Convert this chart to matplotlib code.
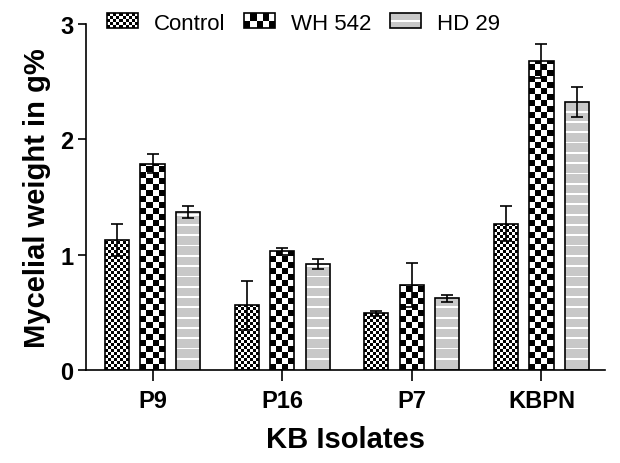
import matplotlib.pyplot as plt
import numpy as np
from matplotlib.patches import Rectangle
from matplotlib.collections import PatchCollection
from matplotlib.legend_handler import HandlerBase

plt.rcParams["font.family"] = ["Liberation Sans", "DejaVu Sans"]

groups = ["P9", "P16", "P7", "KBPN"]
series = ["Control", "WH 542", "HD 29"]
control = [1.13, 0.56, 0.49, 1.27]
control_err = [0.14, 0.21, 0.02, 0.15]
wh542 = [1.79, 1.03, 0.74, 2.68]
wh542_err = [0.08, 0.03, 0.19, 0.15]
hd29 = [1.37, 0.92, 0.62, 2.32]
hd29_err = [0.05, 0.04, 0.03, 0.13]

BAR_W = 0.186
OFFSET = 0.274
GRAY = "#c8c8c8"
EDGE_LW = 1.2


def checker_rects(x0, y0, w, h, sx, sy):
    # black squares of a checkerboard filling the box
    rects = []
    nx = int(round(w / sx))
    ny = int(np.ceil(h / sy - 1e-6))
    for j in range(ny):
        hh = min(sy, h - j * sy)
        for i in range(nx):
            if (i + j) % 2 == 0:
                rects.append(Rectangle((x0 + i * sx, y0 + j * sy), sx, hh))
    return rects


def stripe_rects(x0, w, h, step, thick):
    # thin white horizontal lines inside a bar
    rects = []
    y = step
    while y + thick < h:
        rects.append(Rectangle((x0, y), w, thick))
        y += step
    return rects


class CheckerHandler(HandlerBase):
    def __init__(self, sq):
        super().__init__()
        self.sq = sq

    def create_artists(self, legend, orig_handle, xdescent, ydescent,
                       width, height, fontsize, trans):
        x0, y0 = -xdescent, -ydescent
        bg = Rectangle((x0, y0), width, height, facecolor="white",
                       edgecolor="none", transform=trans)
        nx = max(1, int(round(width / self.sq)))
        ny = max(1, int(round(height / self.sq)))
        sq = checker_rects(x0, y0, width, height, width / nx, height / ny)
        for r in sq:
            r.set_facecolor("black")
            r.set_edgecolor("none")
            r.set_transform(trans)
        border = Rectangle((x0, y0), width, height, facecolor="none",
                           edgecolor="black", lw=EDGE_LW, transform=trans)
        return [bg] + sq + [border]


class StripeHandler(HandlerBase):
    def create_artists(self, legend, orig_handle, xdescent, ydescent,
                       width, height, fontsize, trans):
        x0, y0 = -xdescent, -ydescent
        bg = Rectangle((x0, y0), width, height, facecolor=GRAY,
                       edgecolor="none", transform=trans)
        line = Rectangle((x0, y0 + height / 2 - 0.6), width, 1.2,
                         facecolor="white", edgecolor="none", transform=trans)
        border = Rectangle((x0, y0), width, height, facecolor="none",
                           edgecolor="black", lw=EDGE_LW, transform=trans)
        return [bg, line, border]


fig = plt.figure(figsize=(6.2, 4.64), dpi=100)
ax = fig.add_axes([86 / 620, 93 / 464, 519 / 620, 346 / 464])
ax.set_xlim(-0.513, 3.49)
ax.set_ylim(0, 3)

x = np.arange(len(groups))

# pixel scales for the pattern squares
p0 = ax.transData.transform((0, 0))
p1 = ax.transData.transform((1, 1))
px_y = p1[1] - p0[1]

# Control: fine checkerboard
xc = x - OFFSET
ax.bar(xc, control, BAR_W, color="white", edgecolor="none", zorder=2)
rects = []
for xi, v in zip(xc, control):
    rects += checker_rects(xi - BAR_W / 2, 0, BAR_W, v, BAR_W / 8, 3.0 / px_y)
ax.add_collection(PatchCollection(rects, facecolor="black", edgecolor="none", zorder=2.1))
ax.bar(xc, control, BAR_W, color="none", edgecolor="black", lw=EDGE_LW, zorder=2.2)
ax.errorbar(xc, control, yerr=control_err, fmt="none", ecolor="black",
            elinewidth=1.2, capsize=4, capthick=1.2, zorder=3)

# WH 542: coarse checkerboard
xw = x
ax.bar(xw, wh542, BAR_W, color="white", edgecolor="none", zorder=2)
rects = []
for xi, v in zip(xw, wh542):
    rects += checker_rects(xi - BAR_W / 2, 0, BAR_W, v, BAR_W / 4, 6.0 / px_y)
ax.add_collection(PatchCollection(rects, facecolor="black", edgecolor="none", zorder=2.1))
ax.bar(xw, wh542, BAR_W, color="none", edgecolor="black", lw=EDGE_LW, zorder=2.2)
ax.errorbar(xw, wh542, yerr=wh542_err, fmt="none", ecolor="black",
            elinewidth=1.2, capsize=4, capthick=1.2, zorder=3)

# HD 29: gray with white stripes
xh = x + OFFSET
ax.bar(xh, hd29, BAR_W, color=GRAY, edgecolor="none", zorder=2)
rects = []
for xi, v in zip(xh, hd29):
    rects += stripe_rects(xi - BAR_W / 2, BAR_W, v, 10.3 / px_y, 1.8 / px_y)
ax.add_collection(PatchCollection(rects, facecolor="white", edgecolor="none", zorder=2.1))
ax.bar(xh, hd29, BAR_W, color="none", edgecolor="black", lw=EDGE_LW, zorder=2.2)
ax.errorbar(xh, hd29, yerr=hd29_err, fmt="none", ecolor="black",
            elinewidth=1.2, capsize=4, capthick=1.2, zorder=3)

# axes styling
for s in ["top", "right"]:
    ax.spines[s].set_visible(False)
ax.spines["left"].set_linewidth(1.2)
ax.spines["bottom"].set_linewidth(1.2)
ax.set_yticks([0, 1, 2, 3])
ax.set_xticks(x)
ax.set_xticklabels(groups)
ax.tick_params(axis="y", length=6, width=1.2, pad=3, labelsize=17)
ax.tick_params(axis="x", length=8, width=1.2, pad=6, labelsize=17)
for lab in ax.get_xticklabels() + ax.get_yticklabels():
    lab.set_fontweight("bold")
ax.set_xlabel("KB Isolates", fontsize=21, fontweight="bold", labelpad=9)
ax.set_ylabel("Mycelial weight in g%", fontsize=21, fontweight="bold", labelpad=7)

# legend
h1 = Rectangle((0, 0), 1, 1)
h2 = Rectangle((0, 0), 1, 1)
h3 = Rectangle((0, 0), 1, 1)
fig.legend([h1, h2, h3], series,
           handler_map={h1: CheckerHandler(2.2), h2: CheckerHandler(4.4),
                        h3: StripeHandler()},
           loc="center left", bbox_to_anchor=(107 / 620, 1 - 24 / 464),
           ncol=3, frameon=False, fontsize=16, borderpad=0, borderaxespad=0,
           handlelength=1.4, handleheight=0.65, handletextpad=0.7,
           columnspacing=0.85)

fig.savefig("out.png", dpi=100)
